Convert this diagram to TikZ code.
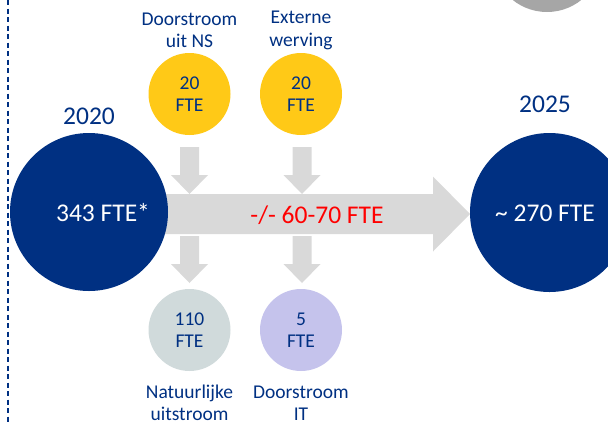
\documentclass[tikz,border=0pt]{standalone}
\usepackage{fontspec}
\setmainfont{Carlito}
\definecolor{nsblauw}{HTML}{003082}
\definecolor{geel}{HTML}{FFC917}
\definecolor{pijlgrijs}{HTML}{D9D9D9}
\definecolor{bolgrijs}{HTML}{A6A6A6}
\definecolor{uitgrijs}{HTML}{D0DADB}
\definecolor{paars}{HTML}{C5C3EC}
\definecolor{rood}{HTML}{FF0000}
\newcommand\groot{\fontsize{25.5}{30}\selectfont}
\newcommand\klein{\fontsize{19.5}{22.5}\selectfont}
\begin{document}
\begin{tikzpicture}[x=1pt,y=-1pt,
    bol/.style={circle,inner sep=0pt,minimum size=#1,align=center},
    tekst/.style={align=center,text=nsblauw,font=\klein}]
  \clip (0,0) rectangle (608,424);
  % stippellijn links
  \draw[nsblauw,line width=1.2pt,dash pattern=on 5pt off 3.5pt] (8,0) -- (8,424);
  % grijze bol rechtsboven
  \node[bol=110pt,fill=bolgrijs] (c2030) at (547,-43) {};
  \node[text=white,font=\klein] (t2030) at (547,-6) {FTE};
  % brede pijl
  \fill[pijlgrijs] (160,194) -- (433,194) -- (433,176.5) -- (470,214)
    -- (433,251.5) -- (433,234) -- (160,234) -- cycle;
  \node[text=rood,font=\groot] (saldo) at (317,215) {-/- 60-70 FTE};
  % kleine pijlen
  \foreach \x in {189.5,302}
    \foreach \y in {147,236}
      \fill[pijlgrijs] (\x-9.5,\y) -- (\x+9.5,\y) -- (\x+9.5,\y+28) -- (\x+18.5,\y+28)
        -- (\x,\y+47) -- (\x-18.5,\y+28) -- (\x-9.5,\y+28) -- cycle;
  % 2020
  \node[bol=158pt,fill=nsblauw] (c2020) at (89,212) {};
  \node[text=white,font=\groot] (t2020) at (103,213) {343 FTE*};
  \node[text=nsblauw,font=\groot] (j2020) at (89,116) {2020};
  % 2025
  \node[bol=159pt,fill=nsblauw] (c2025) at (549.5,212.5) {};
  \node[text=white,font=\groot] (t2025) at (545,213) {\textasciitilde{} 270 FTE};
  \node[text=nsblauw,font=\groot] (j2025) at (545,104) {2025};
  % instroom
  \node[bol=82pt,fill=geel,tekst] (in1) at (189.5,94) {20\\FTE};
  \node[bol=82pt,fill=geel,tekst] (in2) at (301,94) {20\\FTE};
  \node[tekst] (lin1) at (189.5,30.5) {Doorstroom\\uit NS};
  \node[tekst] (lin2) at (301,30.5) {Externe\\werving};
  % uitstroom
  \node[bol=82pt,fill=uitgrijs,tekst] (uit1) at (189.5,330) {110\\FTE};
  \node[bol=82pt,fill=paars,tekst] (uit2) at (301,330) {5\\FTE};
  \node[tekst] (luit1) at (189.5,403) {Natuurlijke\\uitstroom};
  \node[tekst] (luit2) at (301,403) {Doorstroom\\IT};
\end{tikzpicture}
\end{document}
